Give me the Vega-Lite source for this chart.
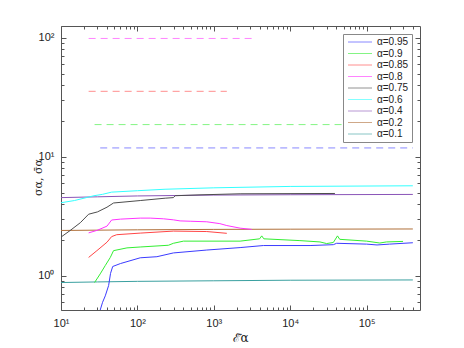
{
  "$schema": "https://vega.github.io/schema/vega-lite/v6.json",
  "width": 359,
  "height": 284,
  "autosize": {"type": "none"},
  "padding": {"left": 61, "top": 26, "right": 44, "bottom": 38},
  "background": "white",
  "config": {
    "font": "Liberation Sans",
    "view": {"stroke": "#555", "strokeWidth": 1},
    "axis": {"domain": false, "grid": false, "tickColor": "#555", "labelColor": "#222", "labelFont": "Liberation Sans", "labelFontSize": 11, "titleFont": "DejaVu Serif", "titleFontWeight": "normal", "titleColor": "#222", "titleFontSize": 12}
  },
  "data": {"values": [
    {"s":"α=0.1","k":"solid","x":10,"y":0.88},{"s":"α=0.1","k":"solid","x":30,"y":0.89},{"s":"α=0.1","k":"solid","x":100,"y":0.9},{"s":"α=0.1","k":"solid","x":1000,"y":0.91},{"s":"α=0.1","k":"solid","x":10000,"y":0.92},{"s":"α=0.1","k":"solid","x":403000,"y":0.925},
    {"s":"α=0.2","k":"solid","x":10,"y":2.41},{"s":"α=0.2","k":"solid","x":100,"y":2.44},{"s":"α=0.2","k":"solid","x":1000,"y":2.46},{"s":"α=0.2","k":"solid","x":10000,"y":2.47},{"s":"α=0.2","k":"solid","x":403000,"y":2.48},
    {"s":"α=0.4","k":"solid","x":10,"y":4.55},{"s":"α=0.4","k":"solid","x":30,"y":4.62},{"s":"α=0.4","k":"solid","x":100,"y":4.7},{"s":"α=0.4","k":"solid","x":1000,"y":4.78},{"s":"α=0.4","k":"solid","x":10000,"y":4.81},{"s":"α=0.4","k":"solid","x":403000,"y":4.84},
    {"s":"α=0.6","k":"solid","x":10,"y":4.12},{"s":"α=0.6","k":"solid","x":15,"y":4.3},{"s":"α=0.6","k":"solid","x":20,"y":4.5},{"s":"α=0.6","k":"solid","x":27,"y":4.72},{"s":"α=0.6","k":"solid","x":35,"y":4.85},{"s":"α=0.6","k":"solid","x":46,"y":5.06},{"s":"α=0.6","k":"solid","x":100,"y":5.2},{"s":"α=0.6","k":"solid","x":230,"y":5.35},{"s":"α=0.6","k":"solid","x":1000,"y":5.5},{"s":"α=0.6","k":"solid","x":10000,"y":5.65},{"s":"α=0.6","k":"solid","x":403000,"y":5.72},
    {"s":"α=0.75","k":"solid","x":10,"y":2.12},{"s":"α=0.75","k":"solid","x":13.2,"y":2.41},{"s":"α=0.75","k":"solid","x":17.9,"y":2.8},{"s":"α=0.75","k":"solid","x":23,"y":3.3},{"s":"α=0.75","k":"solid","x":30,"y":3.45},{"s":"α=0.75","k":"solid","x":40,"y":3.78},{"s":"α=0.75","k":"solid","x":48.7,"y":4.1},{"s":"α=0.75","k":"solid","x":109,"y":4.3},{"s":"α=0.75","k":"solid","x":231,"y":4.5},{"s":"α=0.75","k":"solid","x":296,"y":4.55},{"s":"α=0.75","k":"solid","x":312,"y":4.72},{"s":"α=0.75","k":"solid","x":660,"y":4.8},{"s":"α=0.75","k":"solid","x":2210,"y":4.9},{"s":"α=0.75","k":"solid","x":38500,"y":4.93},
    {"s":"α=0.8","k":"solid","x":23,"y":2.3},{"s":"α=0.8","k":"solid","x":30,"y":2.42},{"s":"α=0.8","k":"solid","x":40,"y":2.62},{"s":"α=0.8","k":"solid","x":46,"y":2.95},{"s":"α=0.8","k":"solid","x":60,"y":3.0},{"s":"α=0.8","k":"solid","x":109,"y":3.06},{"s":"α=0.8","k":"solid","x":147,"y":3.06},{"s":"α=0.8","k":"solid","x":220,"y":3.02},{"s":"α=0.8","k":"solid","x":296,"y":2.96},{"s":"α=0.8","k":"solid","x":362,"y":2.9},{"s":"α=0.8","k":"solid","x":500,"y":2.88},{"s":"α=0.8","k":"solid","x":809,"y":2.85},{"s":"α=0.8","k":"solid","x":1200,"y":2.75},{"s":"α=0.8","k":"solid","x":1480,"y":2.65},{"s":"α=0.8","k":"solid","x":2210,"y":2.52},{"s":"α=0.8","k":"solid","x":3140,"y":2.46},
    {"s":"α=0.85","k":"solid","x":23,"y":1.43},{"s":"α=0.85","k":"solid","x":29.5,"y":1.63},{"s":"α=0.85","k":"solid","x":40,"y":1.92},{"s":"α=0.85","k":"solid","x":46,"y":2.14},{"s":"α=0.85","k":"solid","x":53.6,"y":2.22},{"s":"α=0.85","k":"solid","x":109,"y":2.29},{"s":"α=0.85","k":"solid","x":296,"y":2.38},{"s":"α=0.85","k":"solid","x":809,"y":2.36},{"s":"α=0.85","k":"solid","x":1480,"y":2.28},
    {"s":"α=0.9","k":"solid","x":27.5,"y":0.88},{"s":"α=0.9","k":"solid","x":32.6,"y":1.04},{"s":"α=0.9","k":"solid","x":37.9,"y":1.22},{"s":"α=0.9","k":"solid","x":44.2,"y":1.43},{"s":"α=0.9","k":"solid","x":48.7,"y":1.63},{"s":"α=0.9","k":"solid","x":73,"y":1.72},{"s":"α=0.9","k":"solid","x":109,"y":1.75},{"s":"α=0.9","k":"solid","x":255,"y":1.81},{"s":"α=0.9","k":"solid","x":296,"y":1.88},{"s":"α=0.9","k":"solid","x":401,"y":1.96},{"s":"α=0.9","k":"solid","x":2210,"y":1.96},{"s":"α=0.9","k":"solid","x":3980,"y":2.05},{"s":"α=0.9","k":"solid","x":4240,"y":2.17},{"s":"α=0.9","k":"solid","x":4520,"y":2.05},{"s":"α=0.9","k":"solid","x":13400,"y":1.98},{"s":"α=0.9","k":"solid","x":24500,"y":1.93},{"s":"α=0.9","k":"solid","x":30000,"y":1.87},{"s":"α=0.9","k":"solid","x":36700,"y":1.91},{"s":"α=0.9","k":"solid","x":41600,"y":2.17},{"s":"α=0.9","k":"solid","x":44500,"y":2.03},{"s":"α=0.9","k":"solid","x":100000,"y":1.96},{"s":"α=0.9","k":"solid","x":149000,"y":1.89},{"s":"α=0.9","k":"solid","x":182000,"y":1.93},{"s":"α=0.9","k":"solid","x":300000,"y":1.95},
    {"s":"α=0.95","k":"solid","x":32.6,"y":0.517},{"s":"α=0.95","k":"solid","x":35,"y":0.6},{"s":"α=0.95","k":"solid","x":38,"y":0.68},{"s":"α=0.95","k":"solid","x":42,"y":0.83},{"s":"α=0.95","k":"solid","x":44.5,"y":1.05},{"s":"α=0.95","k":"solid","x":47.5,"y":1.2},{"s":"α=0.95","k":"solid","x":60,"y":1.27},{"s":"α=0.95","k":"solid","x":109,"y":1.42},{"s":"α=0.95","k":"solid","x":180,"y":1.45},{"s":"α=0.95","k":"solid","x":296,"y":1.56},{"s":"α=0.95","k":"solid","x":809,"y":1.65},{"s":"α=0.95","k":"solid","x":2210,"y":1.73},{"s":"α=0.95","k":"solid","x":4450,"y":1.8},{"s":"α=0.95","k":"solid","x":18200,"y":1.8},{"s":"α=0.95","k":"solid","x":36700,"y":1.83},{"s":"α=0.95","k":"solid","x":40500,"y":1.88},{"s":"α=0.95","k":"solid","x":100000,"y":1.85},{"s":"α=0.95","k":"solid","x":137000,"y":1.82},{"s":"α=0.95","k":"solid","x":200000,"y":1.85},{"s":"α=0.95","k":"solid","x":403000,"y":1.9},
    {"s":"α=0.8","k":"dash","x":23,"y":99},{"s":"α=0.8","k":"dash","x":3140,"y":99},
    {"s":"α=0.85","k":"dash","x":23,"y":35.6},{"s":"α=0.85","k":"dash","x":1480,"y":35.6},
    {"s":"α=0.9","k":"dash","x":27.5,"y":18.7},{"s":"α=0.9","k":"dash","x":300000,"y":18.7},
    {"s":"α=0.95","k":"dash","x":32.6,"y":11.9},{"s":"α=0.95","k":"dash","x":403000,"y":11.9}
  ]},
  "layer": [
    {
      "transform": [{"filter": "datum.k == 'solid'"}],
      "mark": {"type": "line", "strokeWidth": 1, "clip": true, "interpolate": "linear"},
      "encoding": {
        "x": {"field": "x", "type": "quantitative", "scale": {"type": "log", "domain": [10, 500000], "nice": false},
          "axis": {"orient": "bottom", "title": "ℰ̄α", "titlePadding": 4,
            "values": [10,20,30,40,50,60,70,80,90,100,200,300,400,500,600,700,800,900,1000,2000,3000,4000,5000,6000,7000,8000,9000,10000,20000,30000,40000,50000,60000,70000,80000,90000,100000,200000,300000,400000],
            "labelExpr": "abs(log(datum.value)/LN10 - round(log(datum.value)/LN10)) < 0.000001 ? '10' + ['⁰','¹','²','³','⁴','⁵'][round(log(datum.value)/LN10)] : ''",
            "tickSize": {"condition": {"test": "abs(log(datum.value)/LN10 - round(log(datum.value)/LN10)) < 0.000001", "value": -5}, "value": -3},
            "labelPadding": 12, "labelFlush": false}},
        "y": {"field": "y", "type": "quantitative", "scale": {"type": "log", "domain": [0.517, 126], "nice": false},
          "axis": {"orient": "left", "title": "σα, σ̄α", "titleFontSize": 11, "titleX": -23, "titleY": 151, "titleAngle": -90, "titleAlign": "center", "titleBaseline": "middle",
            "values": [0.6,0.7,0.8,0.9,1,2,3,4,5,6,7,8,9,10,20,30,40,50,60,70,80,90,100],
            "labelExpr": "abs(log(datum.value)/LN10 - round(log(datum.value)/LN10)) < 0.000001 ? '10' + ['⁰','¹','²'][round(log(datum.value)/LN10)] : ''",
            "tickSize": {"condition": {"test": "abs(log(datum.value)/LN10 - round(log(datum.value)/LN10)) < 0.000001", "value": -5}, "value": -3},
            "labelPadding": 12}},
        "color": {"field": "s", "type": "nominal",
          "scale": {"domain": ["α=0.95","α=0.9","α=0.85","α=0.8","α=0.75","α=0.6","α=0.4","α=0.2","α=0.1"],
                    "range": ["#3b3bff","#33ee33","#ff4545","#ff33ff","#4d4d4d","#33ffff","#8a55b8","#b0703a","#3aa0a0"]},
          "legend": {"orient": "none", "legendX": 282, "legendY": 8, "title": null, "symbolType": "M-1,0H7", "symbolSize": 36, "symbolStrokeWidth": 1, "symbolFillColor": "transparent", "labelFontSize": 10, "labelFont": "Liberation Sans", "labelColor": "#222", "labelOffset": 21, "padding": 3, "rowPadding": 1.5, "strokeColor": "#888", "fillColor": "white"}},
        "order": {"field": "x", "type": "quantitative"}
      }
    },
    {
      "transform": [{"filter": "datum.k == 'dash'"}],
      "mark": {"type": "line", "strokeWidth": 1, "strokeDash": [7, 5], "clip": true, "opacity": 0.6},
      "encoding": {
        "x": {"field": "x", "type": "quantitative",
          "axis": {"orient": "top", "title": null, "labels": false,
            "values": [10,20,30,40,50,60,70,80,90,100,200,300,400,500,600,700,800,900,1000,2000,3000,4000,5000,6000,7000,8000,9000,10000,20000,30000,40000,50000,60000,70000,80000,90000,100000,200000,300000,400000],
            "tickSize": {"condition": {"test": "abs(log(datum.value)/LN10 - round(log(datum.value)/LN10)) < 0.000001", "value": -5}, "value": -3}}},
        "y": {"field": "y", "type": "quantitative",
          "axis": {"orient": "right", "title": null, "labels": false,
            "values": [0.6,0.7,0.8,0.9,1,2,3,4,5,6,7,8,9,10,20,30,40,50,60,70,80,90,100],
            "tickSize": {"condition": {"test": "abs(log(datum.value)/LN10 - round(log(datum.value)/LN10)) < 0.000001", "value": -5}, "value": -3}}},
        "color": {"field": "s", "type": "nominal"},
        "order": {"field": "x", "type": "quantitative"}
      }
    }
  ],
  "resolve": {"axis": {"x": "independent", "y": "independent"}}
}
